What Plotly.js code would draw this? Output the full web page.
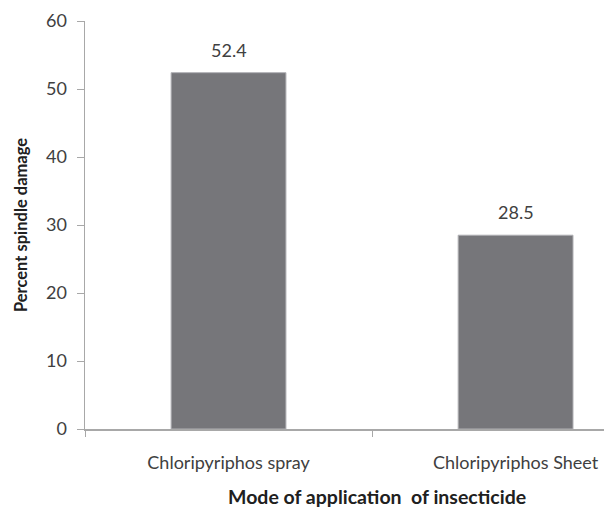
<!DOCTYPE html>
<html>
<head>
<meta charset="utf-8">
<script src="https://cdn.plot.ly/plotly-3.0.1.min.js"></script>
<style>html,body{margin:0;padding:0;background:#fff;}#chart{width:604px;height:510px;}</style>
</head>
<body>
<div id="chart"></div>
<script>
var categories = ["Chloripyriphos spray", "Chloripyriphos Sheet"];
var values = [52.4, 28.5];
var valueLabels = ["52.4", "28.5"];
var yTicks = [0, 10, 20, 30, 40, 50, 60];
var xTitle = "Mode of application  of insecticide";
var yTitle = "Percent spindle damage";

var fontFam = "Lato, 'Open Sans', sans-serif";
var trace = {
  type: "bar",
  x: categories,
  y: values,
  marker: {color: "#76767a", line: {color: "#b0b0b4", width: 1}},
  width: 0.4,
  hoverinfo: "none"
};
var annotations = categories.map(function (c, i) {
  return {
    x: c, y: values[i], xref: "x", yref: "y",
    text: valueLabels[i], showarrow: false,
    yanchor: "bottom", yshift: 10,
    font: {family: fontFam, size: 18, color: "#404040"}
  };
});
// x-axis title, centred under the full (cropped) category axis
annotations.push({
  xref: "paper", yref: "paper", x: 0.5626, y: -0.166,
  xanchor: "center", yanchor: "middle", showarrow: false,
  text: "<b>" + xTitle + "</b>",
  font: {family: fontFam, size: 19.5, color: "#202020"}
});
var layout = {
  width: 604, height: 510,
  margin: {l: 85, r: 0, t: 21, b: 81},
  paper_bgcolor: "#fff", plot_bgcolor: "#fff",
  showlegend: false,
  font: {family: fontFam, color: "#404040"},
  annotations: annotations,
  xaxis: {
    type: "category",
    range: [-0.5, 1.308],
    showgrid: false, zeroline: false,
    showline: true, linecolor: "#a8a8a8", linewidth: 1.5,
    ticks: "outside", tickson: "boundaries", ticklen: 6, tickcolor: "#a8a8a8",
    tickfont: {family: fontFam, size: 18, color: "#404040"},
    ticklabelstandoff: 17
  },
  yaxis: {
    range: [0, 60],
    tickvals: yTicks,
    showgrid: false, zeroline: false,
    showline: true, linecolor: "#a8a8a8", linewidth: 1.5,
    ticks: "outside", ticklen: 7, tickcolor: "#a8a8a8",
    tickfont: {family: fontFam, size: 18, color: "#404040"},
    ticklabelstandoff: 6,
    title: {text: "<b>" + yTitle + "</b>", font: {family: fontFam, size: 16.5, color: "#202020"}, standoff: 14}
  }
};
Plotly.newPlot("chart", [trace], layout, {displayModeBar: false, staticPlot: true});
</script>
</body>
</html>
